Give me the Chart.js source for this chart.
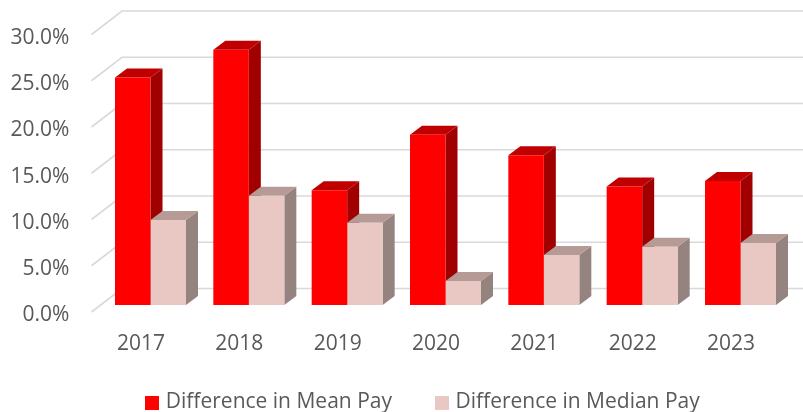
<!DOCTYPE html>
<html>
<head>
<meta charset="utf-8">
<style>html,body{margin:0;padding:0;background:#fff}canvas{display:block}</style>
<script src="https://cdn.jsdelivr.net/npm/chart.js@4"></script>
</head>
<body>
<canvas id="c" width="803" height="412"></canvas>
<script>
const categories = ['2017','2018','2019','2020','2021','2022','2023'];
const meanPay = [24.6,27.6,12.4,18.4,16.2,12.8,13.4];
const medianPay = [9.2,11.8,8.9,2.6,5.4,6.3,6.7];
const seriesNames = ['Difference in Mean Pay','Difference in Median Pay'];
const frontColors = ['#FF0000','#E9C8C3'];
const topColors = ['#C00000','#B59A96'];
const sideColors = ['#A00000','#958380'];
const textColor = '#595959', gridColor = '#D9D9D9';
const fontFamily = '"Open Sans", sans-serif';
const fontSize = 21;

function swatch(color){
  const s = document.createElement('canvas'); s.width = 14; s.height = 14;
  const g = s.getContext('2d'); g.fillStyle = color; g.fillRect(0,0,14,14);
  return s;
}
const swatches = frontColors.map(swatch);

const depth3d = {
  id:'depth3d',
  beforeLayout(chart){
    const lg = chart.legend;
    if(!lg._fitWrapped){
      const fit = lg.fit;
      lg.fit = function(){ fit.call(this); this.height = 40; };
      lg._fitWrapped = true;
    }
  },
  afterLayout(chart){
    const lg = chart.legend;
    lg.left += 29.7; lg.right += 29.7; lg.top = 345; lg.bottom = 412;
  },
  beforeDatasetsDraw(chart){
    const ctx = chart.ctx, y = chart.scales.y;
    ctx.save();
    ctx.strokeStyle = gridColor; ctx.lineWidth = 1.6;
    y.ticks.forEach(t=>{
      const p = y.getPixelForValue(t.value);
      ctx.beginPath();
      ctx.moveTo(91.5,p+7);
      ctx.lineTo(122,p-16.5);
      ctx.lineTo(803,p-16.5);
      ctx.stroke();
    });
    const dx = 12, dy = 9;
    chart.data.datasets.forEach((d,i)=>{
      chart.getDatasetMeta(i).data.forEach(b=>{
        const l = b.x-b.width/2, r = b.x+b.width/2, t = b.y, base = b.base;
        ctx.fillStyle = sideColors[i];
        ctx.beginPath();
        ctx.moveTo(r,t);ctx.lineTo(r+dx,t-dy);ctx.lineTo(r+dx,base-dy);ctx.lineTo(r,base);
        ctx.closePath();ctx.fill();
        ctx.fillStyle = topColors[i];
        ctx.beginPath();
        ctx.moveTo(l,t);ctx.lineTo(l+dx,t-dy);ctx.lineTo(r+dx,t-dy);ctx.lineTo(r,t);
        ctx.closePath();ctx.fill();
      });
    });
    ctx.restore();
  }
};

new Chart(document.getElementById('c'),{
  type:'bar',
  data:{
    labels:categories,
    datasets:[
      {label:seriesNames[0],data:meanPay,backgroundColor:frontColors[0]},
      {label:seriesNames[1],data:medianPay,backgroundColor:frontColors[1]}
    ]
  },
  options:{
    responsive:false,
    animation:false,
    events:[],
    datasets:{bar:{categoryPercentage:0.722,barPercentage:1,borderWidth:0}},
    layout:{padding:{left:0,right:13.33,top:27.5,bottom:0}},
    scales:{
      x:{
        grid:{display:false,drawTicks:false},
        border:{display:false},
        ticks:{color:textColor,font:{family:fontFamily,size:fontSize},padding:26,labelOffset:-9.5,maxRotation:0},
        afterFit(s){s.height=67;s.paddingLeft=0;s.paddingRight=0;}
      },
      y:{
        min:0,max:30,
        grid:{display:false,drawTicks:false},
        border:{display:false},
        ticks:{stepSize:5,color:textColor,font:{family:fontFamily,size:fontSize},padding:32,labelOffset:10.5,
          callback:v=>v.toFixed(1)+'%'},
        afterFit(s){s.width=101.33;s.paddingTop=0;s.paddingBottom=0;}
      }
    },
    plugins:{
      tooltip:{enabled:false},
      title:{display:false},
      legend:{
        position:'bottom',
        labels:{
          color:textColor,
          font:{family:fontFamily,size:fontSize},
          usePointStyle:true,
          pointStyleWidth:6,
          padding:47,
          generateLabels(chart){
            const items = Chart.defaults.plugins.legend.labels.generateLabels(chart);
            items.forEach((it,i)=>{it.pointStyle=swatches[i];it.fontColor=textColor;});
            return items;
          }
        }
      }
    }
  },
  plugins:[depth3d]
});
</script>
</body>
</html>
